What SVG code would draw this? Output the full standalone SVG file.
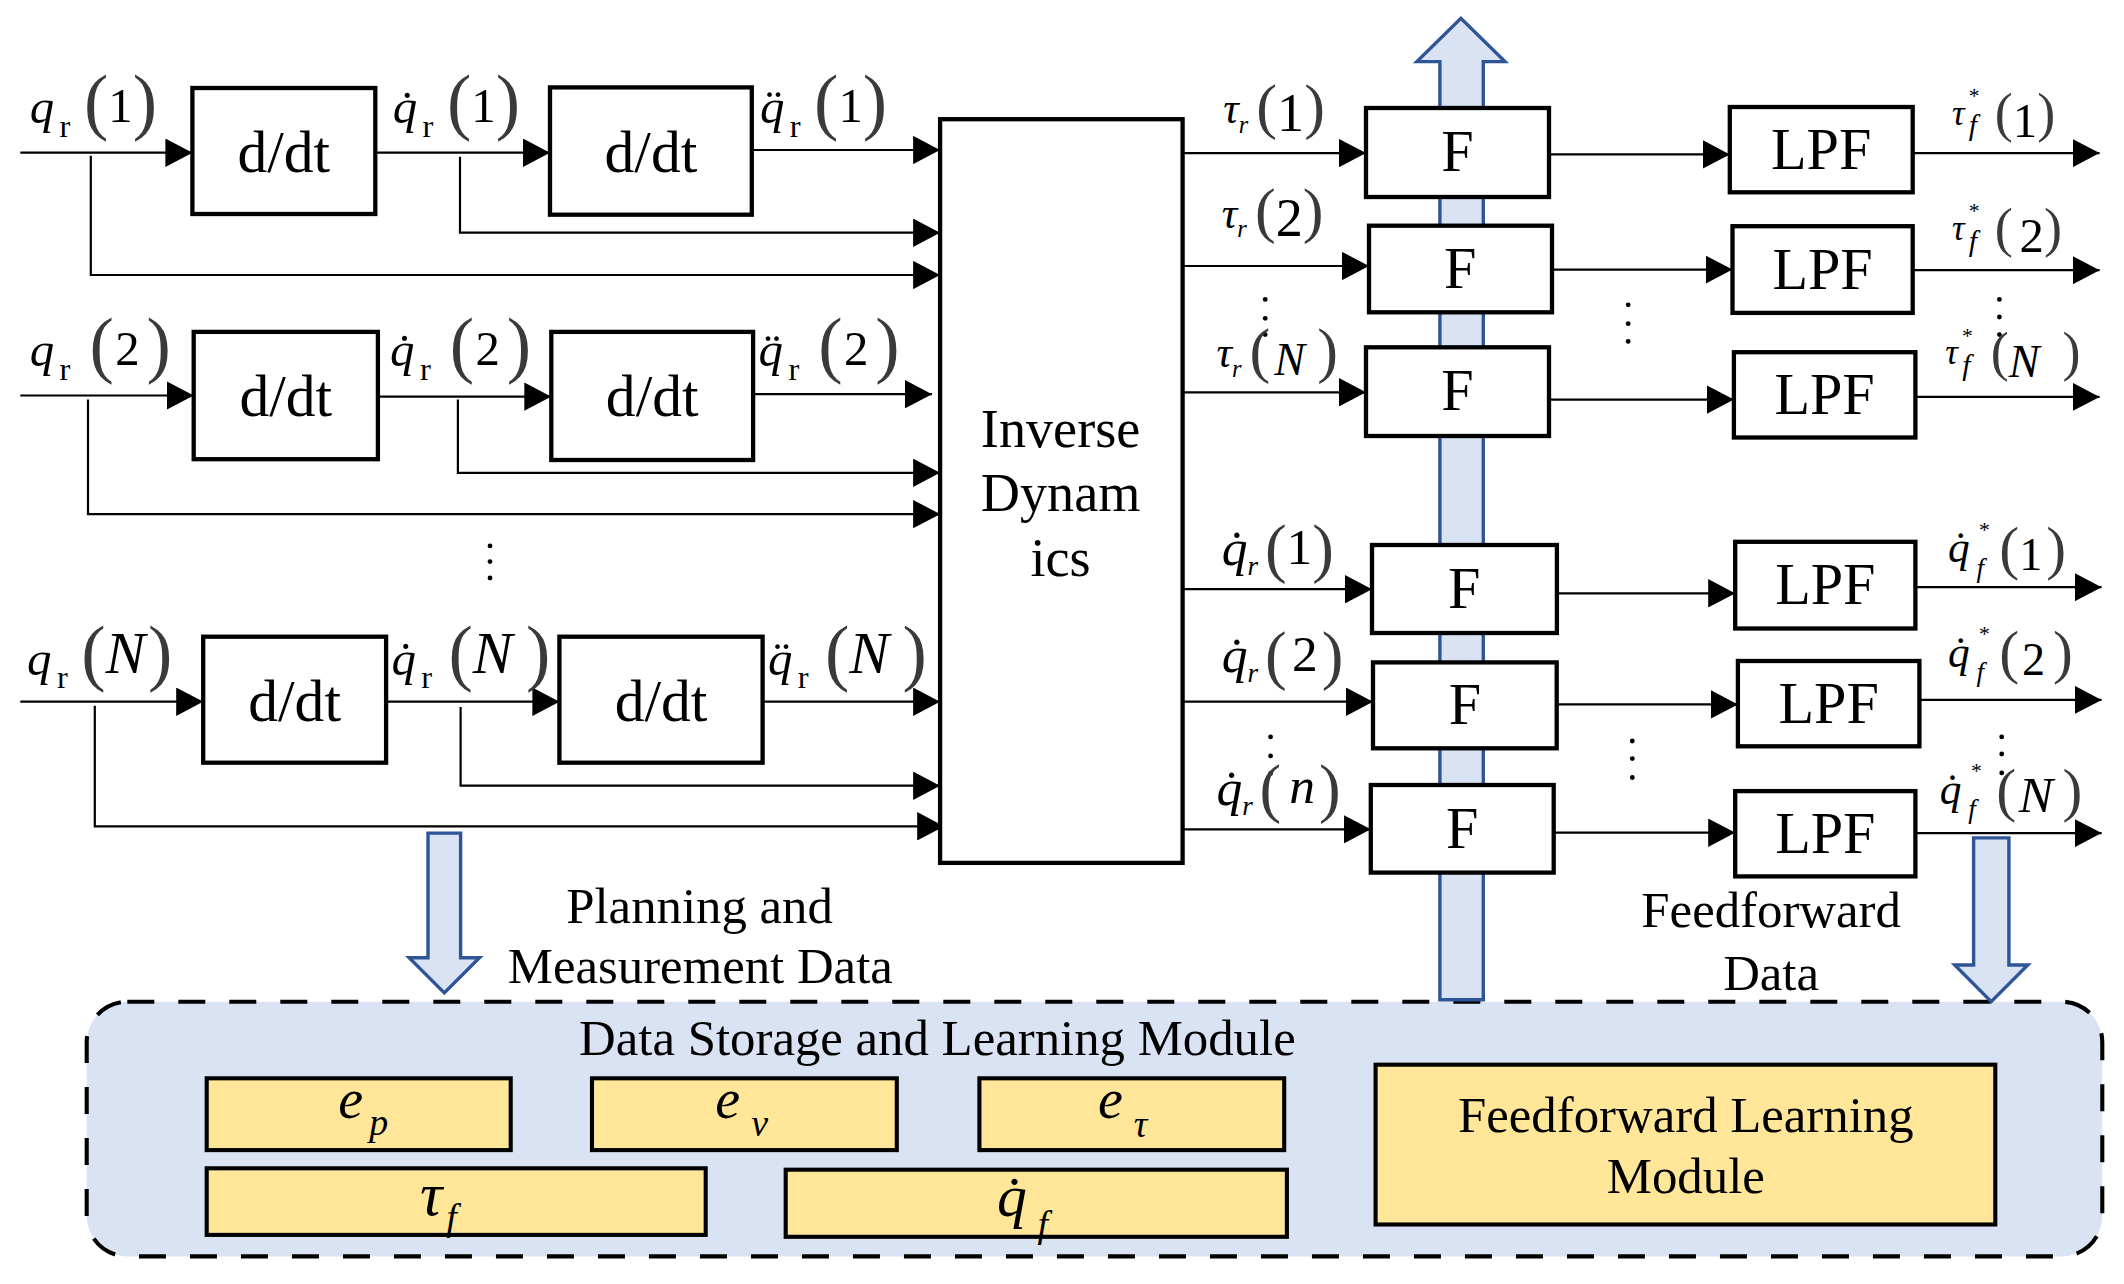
<svg xmlns="http://www.w3.org/2000/svg" width="2124" height="1284" viewBox="0 0 2124 1284">
<defs>
<style>
text{font-family:"Liberation Serif","Times New Roman",serif;fill:#000}
.box{fill:#fff;stroke:#000;stroke-width:4.3}
.ln{fill:none;stroke:#000;stroke-width:2.2}
.arr{marker-end:url(#ah)}
.blk{fill:#dae3f3;stroke:#2f5597;stroke-width:3.4}
.yb{fill:#ffe699;stroke:#000;stroke-width:4.1}
.dash{fill:#dae3f3;stroke:#000;stroke-width:4.1;stroke-dasharray:27 24}
.lbl{font-size:59.6px;text-anchor:middle}
.fl{font-size:58.2px;text-anchor:middle}
.cap{font-size:50.8px;text-anchor:middle}
.id{font-size:54.2px;text-anchor:middle}
.i{font-style:italic}
.p{fill:#3a3a3a}
</style>
<marker id="ah" viewBox="0 0 20 21" refX="20" refY="10.5" markerWidth="27" markerHeight="28.4" markerUnits="userSpaceOnUse" orient="auto"><path d="M0,0 L20,10.5 L0,21 Z" fill="#000"/></marker>
</defs>
<rect width="2124" height="1284" fill="#fff"/>

<!-- storage module -->
<g id="storage">
<rect class="dash" x="86.7" y="1001.7" width="2015.6" height="254.7" rx="40.6" ry="40.6"/>
<text class="cap" x="937.4" y="1055">Data Storage and Learning Module</text>
</g>
<g id="ep"><rect class="yb" x="206.7" y="1078.3" width="304" height="71.8"/><text x="338.3" y="1118"><tspan class="i" font-size="56">e</tspan><tspan class="i" font-size="37.9" dx="6.1" dy="17.1">p</tspan></text></g>
<g id="ev"><rect class="yb" x="592" y="1078.3" width="304.8" height="71.8"/><text x="715.3" y="1118"><tspan class="i" font-size="56">e</tspan><tspan class="i" font-size="37.9" dx="11" dy="18">v</tspan></text></g>
<g id="etau"><rect class="yb" x="979.4" y="1078.3" width="304.8" height="71.8"/><text x="1098" y="1118"><tspan class="i" font-size="56">e</tspan><tspan class="i" font-size="37.9" dx="11" dy="19">&#x3C4;</tspan></text></g>
<g id="tauf"><rect class="yb" x="206.7" y="1168.3" width="499" height="66.6"/><text x="419.9" y="1215.1"><tspan class="i" font-size="62.3">&#x3C4;</tspan><tspan class="i" font-size="37.9" dx="4.1" dy="14.9">f</tspan></text></g>
<g id="qdf"><rect class="yb" x="785.7" y="1169.7" width="501.2" height="67.1"/><text x="997" y="1216.4"><tspan class="i" font-size="59.6">q&#x307;</tspan><tspan class="i" font-size="37.9" dx="10.8" dy="20.3">f</tspan></text></g>
<g id="flm"><rect class="yb" x="1375.6" y="1064.7" width="619.7" height="159.8"/><text class="cap" x="1685.8" y="1132.4">Feedforward Learning</text><text class="cap" x="1685.8" y="1193.4">Module</text></g>

<!-- block arrows and captions -->
<g id="data-flows">
<polygon class="blk" points="1439.9,999.7 1439.9,61.6 1416.9,61.6 1460.9,18.3 1505,61.6 1483.3,61.6 1483.3,999.7"/>
<polygon class="blk" points="428,833.1 460.6,833.1 460.6,957.7 479.5,957.7 444.3,992.9 409.1,957.7 428,957.7"/>
<polygon class="blk" points="1973.6,837.9 2008.9,837.9 2008.9,965 2027.8,965 1991.2,1001.7 1954.7,965 1973.6,965"/>
<text class="cap" x="699.6" y="922.5">Planning and</text>
<text class="cap" x="700.3" y="983.4">Measurement Data</text>
<text class="cap" x="1771.1" y="926.5">Feedforward</text>
<text class="cap" x="1771.1" y="990.2">Data</text>
</g>

<!-- connectors -->
<g id="connectors">
<path class="ln arr" d="M20.3,152.7 H192.4"/>
<path class="ln arr" d="M375.2,152.7 H550"/>
<path class="ln arr" d="M751.8,150 H940.1"/>
<path class="ln arr" d="M90.8,155.8 V275 H940.1"/>
<path class="ln arr" d="M460,156.7 V232.7 H940.1"/>
<path class="ln arr" d="M20.3,395.5 H193.7"/>
<path class="ln arr" d="M377.9,396.6 H551.3"/>
<path class="ln arr" d="M753.2,394.2 H932"/>
<path class="ln arr" d="M88,399.6 V514.1 H940.1"/>
<path class="ln arr" d="M457.9,399.6 V472.8 H940.1"/>
<path class="ln arr" d="M20.3,701.7 H203.2"/>
<path class="ln arr" d="M386.1,701.7 H559.4"/>
<path class="ln arr" d="M762.6,701.7 H940.1"/>
<path class="ln arr" d="M94.8,705.7 V826.3 H944.2"/>
<path class="ln arr" d="M460.6,707.1 V785.7 H940.1"/>
<path class="ln arr" d="M1182.6,153.1 H1366"/>
<path class="ln arr" d="M1182.6,266 H1369"/>
<path class="ln arr" d="M1182.6,392.3 H1366"/>
<path class="ln arr" d="M1182.6,589.2 H1372"/>
<path class="ln arr" d="M1182.6,701.7 H1373"/>
<path class="ln arr" d="M1182.6,829.3 H1370.8"/>
<path class="ln arr" d="M1549,154.4 H1729.8"/>
<path class="ln arr" d="M1552,269.6 H1732.5"/>
<path class="ln arr" d="M1549,399.6 H1733.9"/>
<path class="ln arr" d="M1557,593.3 H1735.2"/>
<path class="ln arr" d="M1556.7,704.4 H1737.9"/>
<path class="ln arr" d="M1553.7,832.7 H1735.2"/>
<path class="ln arr" d="M1912.7,153.1 H2099.6"/>
<path class="ln arr" d="M1912.7,270.2 H2099.6"/>
<path class="ln arr" d="M1915.4,396.9 H2099.6"/>
<path class="ln arr" d="M1915.4,587.2 H2101.6"/>
<path class="ln arr" d="M1919.5,699.9 H2101.6"/>
<path class="ln arr" d="M1915.4,833.1 H2101.6"/>
</g>

<!-- vertical ellipses -->
<g id="ellipses" fill="#000">
<circle cx="490" cy="545.9" r="2.4"/><circle cx="490" cy="561.6" r="2.4"/><circle cx="490" cy="578" r="2.4"/>
<circle cx="1265.2" cy="299.4" r="2.4"/><circle cx="1265.2" cy="318.3" r="2.4"/><circle cx="1265.2" cy="334.6" r="2.4"/>
<circle cx="1628.2" cy="304.8" r="2.4"/><circle cx="1628.2" cy="323.7" r="2.4"/><circle cx="1628.2" cy="341.4" r="2.4"/>
<circle cx="1999.4" cy="299.4" r="2.4"/><circle cx="1999.4" cy="317" r="2.4"/><circle cx="1999.4" cy="334.6" r="2.4"/>
<circle cx="1270.6" cy="736.9" r="2.4"/><circle cx="1270.6" cy="755.9" r="2.4"/><circle cx="1270.6" cy="773.5" r="2.4"/>
<circle cx="1632.3" cy="741" r="2.4"/><circle cx="1632.3" cy="758.6" r="2.4"/><circle cx="1632.3" cy="777.5" r="2.4"/>
<circle cx="2001.7" cy="736.9" r="2.4"/><circle cx="2001.7" cy="754" r="2.4"/><circle cx="2001.7" cy="772.9" r="2.4"/>
</g>

<!-- derivative blocks -->
<g id="ddt1a"><rect class="box" x="192.4" y="88" width="182.9" height="126"/><text class="lbl" x="283.8" y="171.6">d/dt</text></g>
<g id="ddt1b"><rect class="box" x="550" y="87.4" width="201.8" height="127.3"/><text class="lbl" x="650.9" y="171.6">d/dt</text></g>
<g id="ddt2a"><rect class="box" x="193.7" y="331.9" width="184.2" height="127.3"/><text class="lbl" x="285.8" y="415.9">d/dt</text></g>
<g id="ddt2b"><rect class="box" x="551.3" y="331.9" width="201.8" height="128.1"/><text class="lbl" x="652.2" y="415.9">d/dt</text></g>
<g id="ddtNa"><rect class="box" x="203.2" y="636.7" width="182.9" height="126"/><text class="lbl" x="294.6" y="720.6">d/dt</text></g>
<g id="ddtNb"><rect class="box" x="559.4" y="636.7" width="203.2" height="126"/><text class="lbl" x="661" y="720.6">d/dt</text></g>

<g id="invdyn"><rect class="box" x="940.1" y="119.2" width="242.5" height="743.7"/>
<text class="id" x="1060.6" y="447">Inverse</text>
<text class="id" x="1060.6" y="511.4">Dynam</text>
<text class="id" x="1060.6" y="575.7">ics</text></g>

<g id="F1"><rect class="box" x="1366" y="108" width="183" height="89"/><text class="fl" x="1457.5" y="171.4">F</text></g>
<g id="F2"><rect class="box" x="1369" y="225.7" width="183" height="86.6"/><text class="fl" x="1460.2" y="287.9">F</text></g>
<g id="F3"><rect class="box" x="1366" y="347.3" width="183" height="88.7"/><text class="fl" x="1457.5" y="410.4">F</text></g>
<g id="F4"><rect class="box" x="1372" y="545" width="184.9" height="88"/><text class="fl" x="1464.3" y="607.9">F</text></g>
<g id="F5"><rect class="box" x="1373" y="662.4" width="183.7" height="85.9"/><text class="fl" x="1464.9" y="724.3">F</text></g>
<g id="F6"><rect class="box" x="1370.8" y="785" width="182.9" height="87.6"/><text class="fl" x="1462.3" y="847.8">F</text></g>

<g id="LPF1"><rect class="box" x="1729.8" y="107" width="182.9" height="85.3"/><text class="fl" x="1821.2" y="168.6">LPF</text></g>
<g id="LPF2"><rect class="box" x="1732.5" y="226.2" width="180.2" height="86.7"/><text class="fl" x="1822.6" y="288.5">LPF</text></g>
<g id="LPF3"><rect class="box" x="1733.9" y="352.2" width="181.5" height="85.3"/><text class="fl" x="1824.6" y="413.8">LPF</text></g>
<g id="LPF4"><rect class="box" x="1735.2" y="541.8" width="180.2" height="86.7"/><text class="fl" x="1825.3" y="604.1">LPF</text></g>
<g id="LPF5"><rect class="box" x="1737.9" y="661" width="181.5" height="85.3"/><text class="fl" x="1828.7" y="722.7">LPF</text></g>
<g id="LPF6"><rect class="box" x="1735.2" y="791.1" width="180.2" height="85.3"/><text class="fl" x="1825.3" y="852.7">LPF</text></g>

<!-- signal labels, left -->
<g id="labels-left">
<text x="29.8" y="123.3"><tspan class="i" font-size="48.8">q</tspan><tspan font-size="32.5" dx="5.4" dy="13.5">r</tspan><tspan class="p" font-size="73.1" dx="13.5" dy="-10.8">(</tspan><tspan font-size="48.8" dy="-4.1">1</tspan><tspan class="p" font-size="73.1" dy="4.1">)</tspan></text>
<text x="392.8" y="123.3"><tspan class="i" font-size="48.8">q&#x307;</tspan><tspan font-size="32.5" dx="5.4" dy="13.5">r</tspan><tspan class="p" font-size="73.1" dx="13.5" dy="-10.8">(</tspan><tspan font-size="48.8" dy="-4.1">1</tspan><tspan class="p" font-size="73.1" dy="4.1">)</tspan></text>
<text x="759.9" y="123.3"><tspan class="i" font-size="48.8">q&#x308;</tspan><tspan font-size="32.5" dx="5.4" dy="13.5">r</tspan><tspan class="p" font-size="73.1" dx="13.5" dy="-10.8">(</tspan><tspan font-size="48.8" dy="-4.1">1</tspan><tspan class="p" font-size="73.1" dy="4.1">)</tspan></text>

<text x="29.8" y="366.4"><tspan class="i" font-size="48.8">q</tspan><tspan font-size="32.5" dx="5.4" dy="13.5">r</tspan><tspan class="p" font-size="73.1" dx="19" dy="-10.8">(</tspan><tspan font-size="48.8" dx="1.4" dy="-4.1">2</tspan><tspan class="p" font-size="73.1" dx="6.8" dy="4.1">)</tspan></text>
<text x="390.1" y="366.4"><tspan class="i" font-size="48.8">q&#x307;</tspan><tspan font-size="32.5" dx="5.4" dy="13.5">r</tspan><tspan class="p" font-size="73.1" dx="19" dy="-10.8">(</tspan><tspan font-size="48.8" dx="1.4" dy="-4.1">2</tspan><tspan class="p" font-size="73.1" dx="6.8" dy="4.1">)</tspan></text>
<text x="758.6" y="366.4"><tspan class="i" font-size="48.8">q&#x308;</tspan><tspan font-size="32.5" dx="5.4" dy="13.5">r</tspan><tspan class="p" font-size="73.1" dx="19" dy="-10.8">(</tspan><tspan font-size="48.8" dx="1.4" dy="-4.1">2</tspan><tspan class="p" font-size="73.1" dx="6.8" dy="4.1">)</tspan></text>

<text x="27.1" y="674.6"><tspan class="i" font-size="48.8">q</tspan><tspan font-size="32.5" dx="5.4" dy="13.5">r</tspan><tspan class="p" font-size="73.1" dx="13.5" dy="-10.8">(</tspan><tspan class="i" font-size="59.6" dy="-4.1">N</tspan><tspan class="p" font-size="73.1" dx="2.7" dy="4.1">)</tspan></text>
<text x="391.5" y="674.6"><tspan class="i" font-size="48.8">q&#x307;</tspan><tspan font-size="32.5" dx="5.4" dy="13.5">r</tspan><tspan class="p" font-size="73.1" dx="16.3" dy="-10.8">(</tspan><tspan class="i" font-size="59.6" dy="-4.1">N</tspan><tspan class="p" font-size="73.1" dx="13.5" dy="4.1">)</tspan></text>
<text x="768" y="674.6"><tspan class="i" font-size="48.8">q&#x308;</tspan><tspan font-size="32.5" dx="5.4" dy="13.5">r</tspan><tspan class="p" font-size="73.1" dx="16.3" dy="-10.8">(</tspan><tspan class="i" font-size="59.6" dy="-4.1">N</tspan><tspan class="p" font-size="73.1" dx="13.5" dy="4.1">)</tspan></text>
</g>

<!-- signal labels, middle -->
<g id="labels-mid">
<text x="1223.2" y="123.3"><tspan class="i" font-size="43.3">&#x3C4;</tspan><tspan class="i" font-size="24.4" dy="9.5">r</tspan><tspan class="p" font-size="62.3" dx="8.1" dy="-6.1">(</tspan><tspan font-size="54.2" dy="4.7">1</tspan><tspan class="p" font-size="62.3" dy="-4.7">)</tspan></text>
<text x="1221.8" y="227.6"><tspan class="i" font-size="43.3">&#x3C4;</tspan><tspan class="i" font-size="24.4" dy="9.5">r</tspan><tspan class="p" font-size="62.3" dx="8.1" dy="-6.1">(</tspan><tspan font-size="54.2" dy="4.7">2</tspan><tspan class="p" font-size="62.3" dy="-4.7">)</tspan></text>
<text x="1216.4" y="367.1"><tspan class="i" font-size="43.3">&#x3C4;</tspan><tspan class="i" font-size="24.4" dy="9.5">r</tspan><tspan class="p" font-size="62.3" dx="8.1" dy="-6.1">(</tspan><tspan class="i" font-size="46.1" dx="4.1" dy="4.7">N</tspan><tspan class="p" font-size="62.3" dx="12.2" dy="-4.7">)</tspan></text>

<text x="1221.8" y="564.9"><tspan class="i" font-size="51.5">q&#x307;</tspan><tspan class="i" font-size="27.1" dy="10.2">r</tspan><tspan class="p" font-size="65" dx="6.8" dy="-4.7">(</tspan><tspan font-size="51.5" dy="-6.8">1</tspan><tspan class="p" font-size="65" dy="6.8">)</tspan></text>
<text x="1221.8" y="671.9"><tspan class="i" font-size="51.5">q&#x307;</tspan><tspan class="i" font-size="27.1" dy="10.2">r</tspan><tspan class="p" font-size="65" dx="6.8" dy="-4.7">(</tspan><tspan font-size="51.5" dx="5.4" dy="-6.8">2</tspan><tspan class="p" font-size="65" dx="4.1" dy="6.8">)</tspan></text>
<text x="1216.4" y="804.6"><tspan class="i" font-size="51.5">q&#x307;</tspan><tspan class="i" font-size="27.1" dy="10.2">r</tspan><tspan class="p" font-size="65" dx="6.8" dy="-4.7">(</tspan><tspan class="i" font-size="51.5" dx="8.1" dy="-6.8">n</tspan><tspan class="p" font-size="65" dx="4.1" dy="6.8">)</tspan></text>
</g>

<!-- signal labels, right -->
<g id="labels-right">
<text x="1951.9" y="124.6"><tspan class="i" font-size="35.2">&#x3C4;</tspan><tspan font-size="21.7" dx="4.3" dy="-21.7">*</tspan><tspan class="i" font-size="29.8" dx="-10.8" dy="32.5">f</tspan><tspan class="p" font-size="54.2" dx="17.6" dy="-4.9">(</tspan><tspan font-size="48.8" dy="6.2">1</tspan><tspan class="p" font-size="54.2" dy="-6.2">)</tspan></text>
<text x="1951.9" y="239.8"><tspan class="i" font-size="35.2">&#x3C4;</tspan><tspan font-size="21.7" dx="4.3" dy="-21.7">*</tspan><tspan class="i" font-size="29.8" dx="-10.8" dy="32.5">f</tspan><tspan class="p" font-size="54.2" dx="17.6" dy="-4.9">(</tspan><tspan font-size="48.8" dx="6.8" dy="6.2">2</tspan><tspan class="p" font-size="54.2" dy="-6.2">)</tspan></text>
<text x="1945.2" y="364.4"><tspan class="i" font-size="35.2">&#x3C4;</tspan><tspan font-size="21.7" dx="4.3" dy="-21.7">*</tspan><tspan class="i" font-size="29.8" dx="-10.8" dy="32.5">f</tspan><tspan class="p" font-size="54.2" dx="20.3" dy="-4.9">(</tspan><tspan class="i" font-size="46.1" dy="6.2">N</tspan><tspan class="p" font-size="54.2" dx="23" dy="-6.2">)</tspan></text>

<text x="1947.9" y="562.2"><tspan class="i" font-size="43.3">q&#x307;</tspan><tspan font-size="21.7" dx="9.5" dy="-25.7">*</tspan><tspan class="i" font-size="27.1" dx="-13.5" dy="40">f</tspan><tspan class="p" font-size="59.6" dx="15.4" dy="-8.5">(</tspan><tspan font-size="46.1" dy="2.4">1</tspan><tspan class="p" font-size="59.6" dx="4.1" dy="-2.4">)</tspan></text>
<text x="1947.9" y="666.5"><tspan class="i" font-size="43.3">q&#x307;</tspan><tspan font-size="21.7" dx="9.5" dy="-25.7">*</tspan><tspan class="i" font-size="27.1" dx="-13.5" dy="40">f</tspan><tspan class="p" font-size="59.6" dx="15.4" dy="-8.5">(</tspan><tspan font-size="46.1" dx="2.7" dy="2.4">2</tspan><tspan class="p" font-size="59.6" dx="8.1" dy="-2.4">)</tspan></text>
<text x="1939.8" y="803.9"><tspan class="i" font-size="43.3">q&#x307;</tspan><tspan font-size="21.7" dx="9.5" dy="-25.7">*</tspan><tspan class="i" font-size="27.1" dx="-13.5" dy="40">f</tspan><tspan class="p" font-size="59.6" dx="20.3" dy="-8.5">(</tspan><tspan class="i" font-size="51.5" dx="2.7" dy="2.4">N</tspan><tspan class="p" font-size="59.6" dx="9.5" dy="-2.4">)</tspan></text>
</g>
</svg>
